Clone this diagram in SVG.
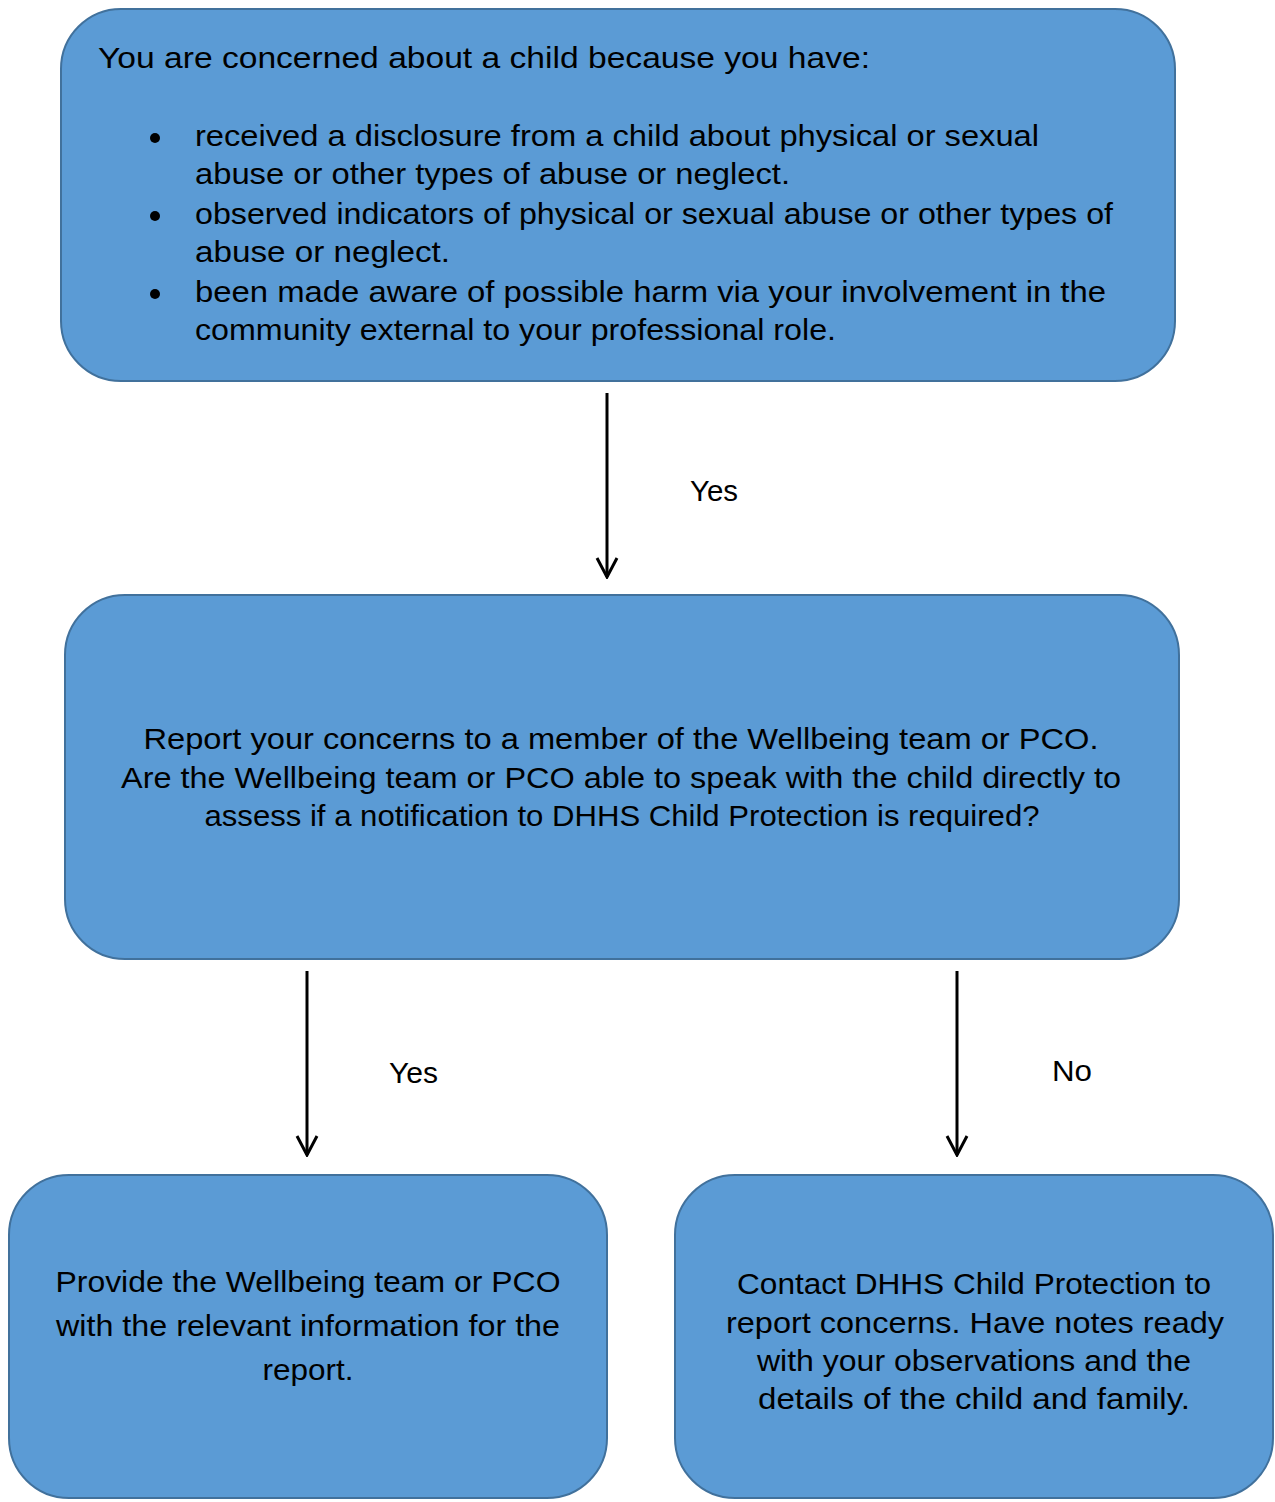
<svg xmlns="http://www.w3.org/2000/svg" width="1275" height="1502" viewBox="0 0 1275 1502">
<style>
.box{fill:#5B9BD5;stroke:#41719C;stroke-width:2}
.t{font-family:"Liberation Sans",Arial,sans-serif;font-size:29px;fill:#000}
.c{text-anchor:middle}
.conn{stroke:#000;stroke-width:3;fill:none}
</style>
<defs>
<marker id="arr" viewBox="0 0 24 24" refX="22" refY="12" markerWidth="24" markerHeight="24" markerUnits="userSpaceOnUse" orient="auto">
<path d="M3,2 L22,12 L3,22" fill="none" stroke="#000" stroke-width="3"/>
</marker>
</defs>
<rect width="1275" height="1502" fill="#fff"/>
<g id="n1">
<rect class="box" x="61" y="9" width="1114" height="372" rx="60" ry="60"/>
<text class="t" x="98" y="68" textLength="772" lengthAdjust="spacingAndGlyphs">You are concerned about a child because you have:</text>
<circle cx="155" cy="138" r="5"/>
<circle cx="155" cy="216" r="5"/>
<circle cx="155" cy="294" r="5"/>
<text class="t" x="195" y="146" textLength="844" lengthAdjust="spacingAndGlyphs">received a disclosure from a child about physical or sexual</text>
<text class="t" x="195" y="184" textLength="595" lengthAdjust="spacingAndGlyphs">abuse or other types of abuse or neglect.</text>
<text class="t" x="195" y="224" textLength="918" lengthAdjust="spacingAndGlyphs">observed indicators of physical or sexual abuse or other types of</text>
<text class="t" x="195" y="262" textLength="255" lengthAdjust="spacingAndGlyphs">abuse or neglect.</text>
<text class="t" x="195" y="302" textLength="911" lengthAdjust="spacingAndGlyphs">been made aware of possible harm via your involvement in the</text>
<text class="t" x="195" y="340" textLength="641" lengthAdjust="spacingAndGlyphs">community external to your professional role.</text>
</g>
<g id="n2">
<rect class="box" x="65" y="595" width="1114" height="364" rx="60" ry="60"/>
<text class="t c" x="621" y="749" textLength="955" lengthAdjust="spacingAndGlyphs">Report your concerns to a member of the Wellbeing team or PCO.</text>
<text class="t c" x="621" y="788" textLength="1000" lengthAdjust="spacingAndGlyphs">Are the Wellbeing team or PCO able to speak with the child directly to</text>
<text class="t c" x="622" y="826" textLength="835" lengthAdjust="spacingAndGlyphs">assess if a notification to DHHS Child Protection is required?</text>
</g>
<g id="n3">
<rect class="box" x="9" y="1175" width="598" height="323" rx="60" ry="60"/>
<text class="t c" x="308" y="1292" textLength="505" lengthAdjust="spacingAndGlyphs">Provide the Wellbeing team or PCO</text>
<text class="t c" x="308" y="1336" textLength="504" lengthAdjust="spacingAndGlyphs">with the relevant information for the</text>
<text class="t c" x="308" y="1380" textLength="91" lengthAdjust="spacingAndGlyphs">report.</text>
</g>
<g id="n4">
<rect class="box" x="675" y="1175" width="598" height="323" rx="60" ry="60"/>
<text class="t c" x="974" y="1294" textLength="474" lengthAdjust="spacingAndGlyphs">Contact DHHS Child Protection to</text>
<text class="t c" x="975" y="1333" textLength="498" lengthAdjust="spacingAndGlyphs">report concerns. Have notes ready</text>
<text class="t c" x="974" y="1371" textLength="434" lengthAdjust="spacingAndGlyphs">with your observations and the</text>
<text class="t c" x="974" y="1409" textLength="432" lengthAdjust="spacingAndGlyphs">details of the child and family.</text>
</g>
<g id="connectors">
<line class="conn" x1="607" y1="393" x2="607" y2="577" marker-end="url(#arr)"/>
<line class="conn" x1="307" y1="971" x2="307" y2="1155" marker-end="url(#arr)"/>
<line class="conn" x1="957" y1="971" x2="957" y2="1155" marker-end="url(#arr)"/>
<text class="t" x="690" y="501" textLength="48" lengthAdjust="spacingAndGlyphs">Yes</text>
<text class="t" x="389" y="1083" textLength="49" lengthAdjust="spacingAndGlyphs">Yes</text>
<text class="t" x="1052" y="1081" textLength="40" lengthAdjust="spacingAndGlyphs">No</text>
</g>
</svg>
